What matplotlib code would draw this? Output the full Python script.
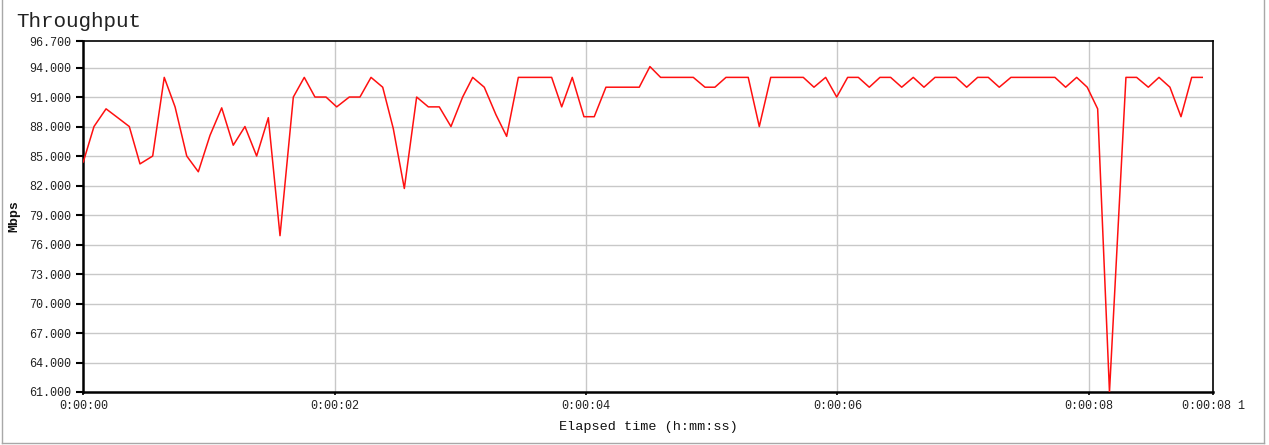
import matplotlib
matplotlib.use("Agg")
import matplotlib.pyplot as plt
from matplotlib.lines import Line2D

# Elapsed time (s) of each timing record
times = [0.000, 0.085, 0.181, 0.274, 0.366, 0.451, 0.552, 0.644, 0.730, 0.823,
         0.915, 1.008, 1.101, 1.193, 1.286, 1.379, 1.472, 1.565, 1.671, 1.758,
         1.843, 1.931, 2.016, 2.116, 2.201, 2.289, 2.382, 2.466, 2.554, 2.652,
         2.745, 2.832, 2.925, 3.018, 3.098, 3.190, 3.283, 3.368, 3.461, 3.554,
         3.639, 3.726, 3.806, 3.890, 3.983, 4.065, 4.158, 4.246, 4.336, 4.423,
         4.508, 4.593, 4.680, 4.767, 4.853, 4.946, 5.025, 5.113, 5.203, 5.290,
         5.378, 5.469, 5.556, 5.644, 5.728, 5.813, 5.906, 5.994, 6.081, 6.166,
         6.253, 6.338, 6.423, 6.511, 6.603, 6.688, 6.776, 6.859, 6.943, 7.028,
         7.115, 7.200, 7.287, 7.380, 7.468, 7.555, 7.643, 7.730, 7.815, 7.903,
         7.987, 8.070, 8.164, 8.295, 8.380, 8.473, 8.558, 8.645, 8.733, 8.818,
         8.902]

# Throughput (Mbps)
throughput = [84.4, 88.0, 89.8, 88.9, 88.0, 84.2, 85.0, 93.0, 90.0, 85.0,
              83.4, 87.1, 89.9, 86.1, 88.0, 85.0, 88.9, 76.9, 91.0, 93.0,
              91.0, 91.0, 90.0, 91.0, 91.0, 93.0, 92.0, 87.8, 81.7, 91.0,
              90.0, 90.0, 88.0, 91.0, 93.0, 92.0, 89.2, 87.0, 93.0, 93.0,
              93.0, 93.0, 90.0, 93.0, 89.0, 89.0, 92.0, 92.0, 92.0, 92.0,
              94.1, 93.0, 93.0, 93.0, 93.0, 92.0, 92.0, 93.0, 93.0, 93.0,
              88.0, 93.0, 93.0, 93.0, 93.0, 92.0, 93.0, 91.0, 93.0, 93.0,
              92.0, 93.0, 93.0, 92.0, 93.0, 92.0, 93.0, 93.0, 93.0, 92.0,
              93.0, 93.0, 92.0, 93.0, 93.0, 93.0, 93.0, 93.0, 92.0, 93.0,
              92.0, 89.8, 61.0, 93.0, 93.0, 92.0, 93.0, 92.0, 89.0, 93.0,
              93.0]

y_ticks = [61.0, 64.0, 67.0, 70.0, 73.0, 76.0, 79.0, 82.0, 85.0, 88.0, 91.0, 94.0, 96.7]
x_ticks = [0, 2, 4, 6, 8, 8.99]
x_tick_labels = ["0:00:00", "0:00:02", "0:00:04", "0:00:06", "0:00:08", "0:00:08 1"]

FONT = "Liberation Mono"

fig = plt.figure(figsize=(12.69, 4.45), dpi=100)
fig.patch.set_facecolor("white")

W, H = 1269, 445
ax = fig.add_axes([83.3 / W, 1 - 392 / H, (1213.3 - 83.3) / W, (392 - 41) / H])

ax.plot(times, throughput, color="#ff1010", linewidth=1.1, zorder=3, clip_on=True)

ax.set_xlim(0, 8.99)
ax.set_ylim(61.0, 96.7)

ax.set_yticks(y_ticks)
ax.set_yticklabels([f"{v:.3f}" for v in y_ticks], fontfamily=FONT, fontsize=8.5, color="#222222")
ax.set_xticks(x_ticks)
ax.set_xticklabels(x_tick_labels, fontfamily=FONT, fontsize=8.5, color="#222222")

ax.tick_params(axis="y", direction="out", length=4.8, width=1.5, pad=4, color="black")
ax.tick_params(axis="x", direction="out", length=2.5, width=1.2, pad=3, color="black")

# grid
for v in y_ticks[1:-1]:
    ax.axhline(v, color="#c8c8c8", linewidth=1.0, zorder=1)
for v in x_ticks[1:-1]:
    ax.axvline(v, color="#c8c8c8", linewidth=1.0, zorder=1)

for side in ("left", "bottom"):
    ax.spines[side].set_linewidth(1.8)
    ax.spines[side].set_color("black")
for side in ("top", "right"):
    ax.spines[side].set_linewidth(1.2)
    ax.spines[side].set_color("black")

ax.set_xlabel("Elapsed time (h:mm:ss)", fontfamily=FONT, fontsize=9.7, color="#111111", labelpad=7)
ax.set_ylabel("Mbps", fontfamily=FONT, fontsize=9.5, fontweight="bold", color="#111111", labelpad=4)
ax.yaxis.set_label_coords((20 - 83.3) / (1213.3 - 83.3), 0.5)

fig.text(16.7 / W, 1 - 27 / H, "Throughput", fontfamily=FONT, fontsize=15, color="#222222",
         ha="left", va="baseline")

# outer panel border
for (x0, y0, x1, y1) in [(2.5, 0, 2.5, 442.5), (1263.5, 0, 1263.5, 442.5), (2.5, 442.5, 1263.5, 442.5)]:
    fig.add_artist(Line2D([x0 / W, x1 / W], [1 - y0 / H, 1 - y1 / H], color="#a8a8a8", linewidth=1.0))

fig.savefig("out.png", dpi=100, facecolor="white")
